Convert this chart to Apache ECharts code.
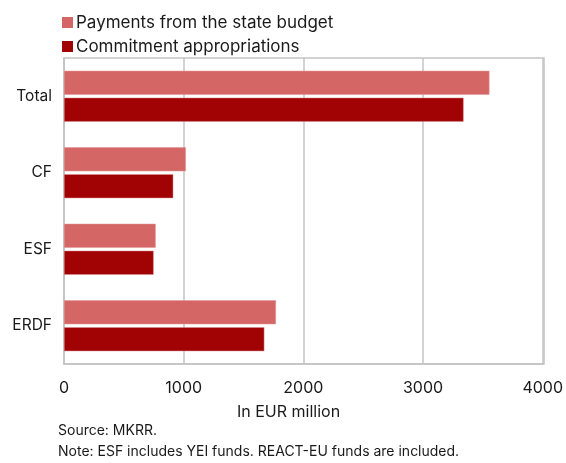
<!DOCTYPE html>
<html>
<head>
<meta charset="utf-8">
<script src="https://cdn.jsdelivr.net/npm/echarts@6/dist/echarts.min.js"></script>
<style>
  html, body { margin: 0; padding: 0; background: #fff; }
  #chart { width: 566px; height: 463px; }
</style>
</head>
<body>
<div id="chart"></div>
<script>
// Funds by instrument, in EUR million
const categories = ['Total', 'CF', 'ESF', 'ERDF'];
const paymentsFromBudget = [3555, 1018, 766, 1771];
const commitmentAppropriations = [3339, 913, 749, 1674];
const xTicks = [0, 1000, 2000, 3000, 4000];

const FONT = 'Inter, "Liberation Sans", Arial, sans-serif';
const TEXT = '#1a1a1a';
const GRID = '#c4c4c4';

const chart = echarts.init(document.getElementById('chart'));
chart.setOption({
  animation: false,
  textStyle: { fontFamily: FONT, color: TEXT },
  legend: {
    orient: 'vertical',
    left: 57,
    top: 9,
    itemWidth: 11,
    itemHeight: 11,
    itemGap: 7,
    icon: 'rect',
    itemStyle: { borderWidth: 0 },
    textStyle: { fontFamily: FONT, fontSize: 17, color: TEXT, padding: [0, 0, 0, -2] },
    data: ['Payments from the state budget', 'Commitment appropriations']
  },
  grid: { left: 64, right: 22, top: 58, bottom: 99, containLabel: false },
  xAxis: {
    type: 'value',
    min: xTicks[0],
    max: xTicks[xTicks.length - 1],
    interval: 1000,
    axisLine: { show: true, lineStyle: { color: GRID, width: 1.5 } },
    axisTick: { show: false },
    axisLabel: { fontSize: 16, color: TEXT, margin: 16, fontFamily: FONT, formatter: v => String(v) },
    splitLine: { show: true, lineStyle: { color: GRID, width: 1.5 } }
  },
  yAxis: {
    type: 'category',
    inverse: true,
    data: categories,
    axisLine: { show: true, lineStyle: { color: GRID, width: 1.5 } },
    axisTick: { show: false },
    axisLabel: { fontSize: 15.5, color: TEXT, margin: 12, fontFamily: FONT },
    splitLine: { show: false }
  },
  series: [
    {
      name: 'Payments from the state budget',
      type: 'bar',
      data: paymentsFromBudget,
      barWidth: 24,
      barGap: '12%',
      itemStyle: { color: '#d46766', borderColor: '#e39595', borderWidth: 0.5 }
    },
    {
      name: 'Commitment appropriations',
      type: 'bar',
      data: commitmentAppropriations,
      barWidth: 24,
      barGap: '12%',
      itemStyle: { color: '#a10204', borderColor: '#d99090', borderWidth: 0.5 }
    }
  ],
  graphic: [
    {
      type: 'rect',
      shape: { x: 64, y: 58, width: 480, height: 306 },
      style: { fill: 'none', stroke: GRID, lineWidth: 1.5 },
      z: 0,
      silent: true
    },
    {
      type: 'text',
      left: 237,
      top: 404,
      style: { text: 'In EUR million', fontSize: 16, fill: TEXT, fontFamily: FONT }
    },
    {
      type: 'text',
      left: 58,
      top: 424,
      style: { text: 'Source: MKRR.', fontSize: 14, fill: TEXT, fontFamily: FONT }
    },
    {
      type: 'text',
      left: 58,
      top: 445,
      style: { text: 'Note: ESF includes YEI funds. REACT-EU funds are included.', fontSize: 14, fill: TEXT, fontFamily: FONT }
    }
  ]
});
</script>
</body>
</html>
